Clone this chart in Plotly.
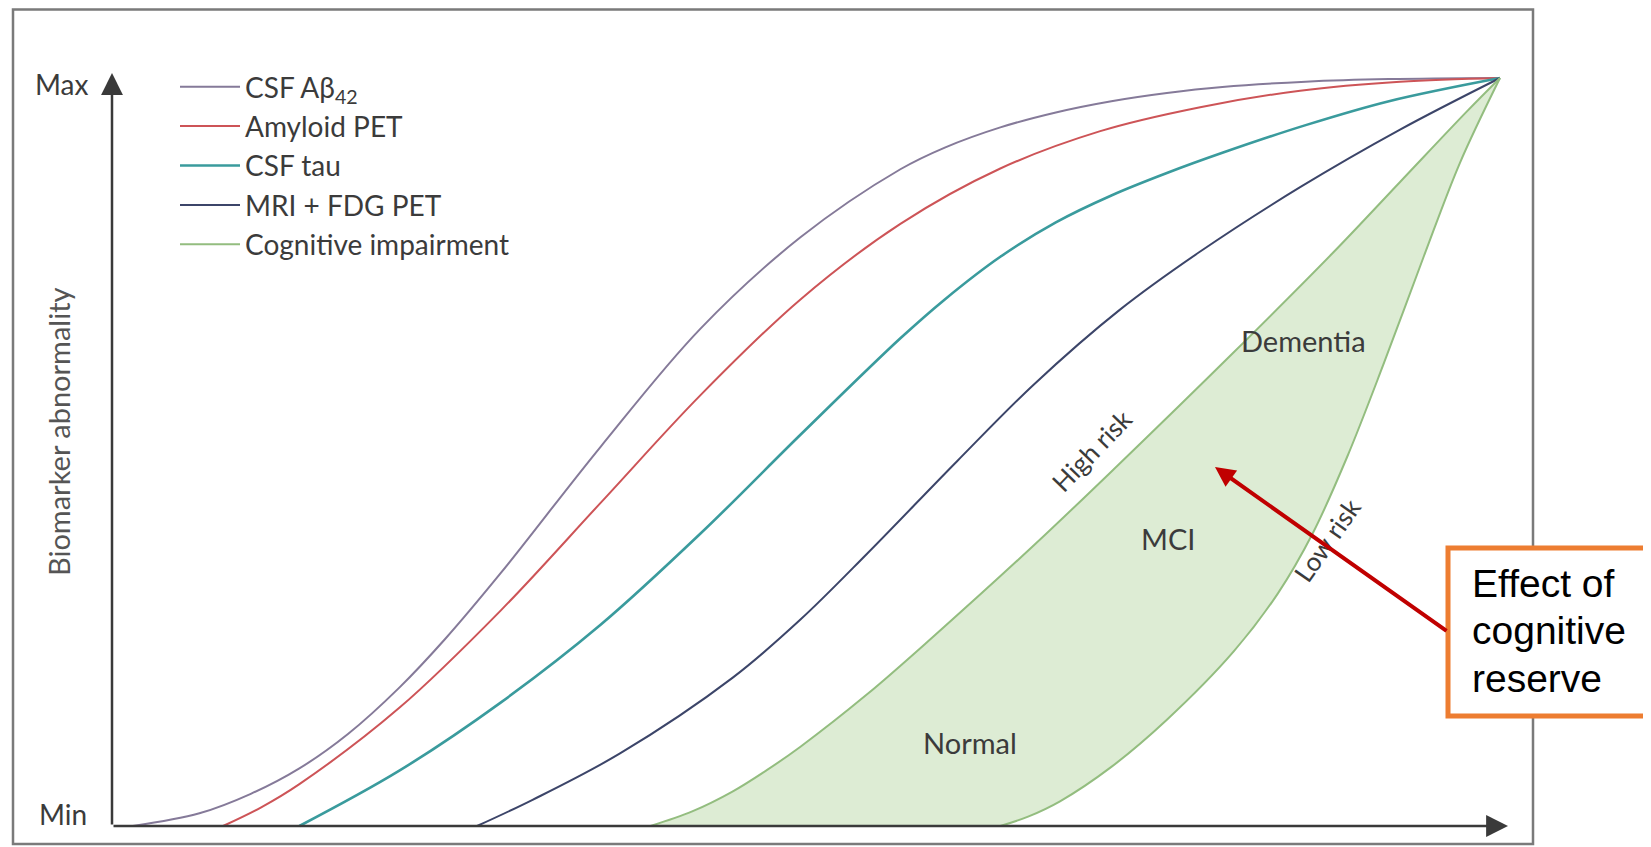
import plotly.graph_objects as go

# ---------------- data (schematic units: x = disease stage 0-100, y = abnormality 0-100)
abeta_x = [1.5, 6.3, 10.0, 13.5, 17.0, 20.7, 24.0, 28.0, 35.2, 42.4, 49.6, 56.8, 60.0, 64.0, 68.0,
           72.0, 76.0, 80.0, 86.0, 92.0, 100]
abeta_y = [0, 1.7, 4.3, 7.7, 12.3, 18.5, 25.0, 33.8, 50.7, 66.5, 78.7, 87.8, 90.7, 93.4, 95.4,
           96.9, 98.0, 98.8, 99.5, 99.85, 100]

amyloid_x = [8.0, 10.75, 13.5, 20.7, 28.0, 35.2, 42.4, 49.6, 56.8, 64.0, 71.2, 78.4, 85.6, 92.8, 100]
amyloid_y = [0, 2.5, 5.6, 15.8, 28.8, 43.2, 57.6, 70.4, 80.5, 87.9, 92.9, 96.1, 98.3, 99.5, 100]

tau_x = [13.5, 20.7, 28.0, 35.2, 42.4, 49.6, 56.8, 60.0, 64.0, 68.0, 72.0, 76.0, 80.0, 86.0, 92.0, 100]
tau_y = [0, 7.4, 16.5, 26.9, 39.1, 52.3, 65.2, 70.4, 76.1, 80.7, 84.3, 87.3, 90.0, 93.7, 96.9, 100]

mri_x = [26.3, 30.3, 36.6, 44.7, 49.6, 54.4, 60.9, 66.4, 72.6, 78.4, 85.6, 92.8, 100]
mri_y = [0, 3.5, 9.7, 19.8, 27.6, 36.4, 48.8, 59.0, 69.0, 76.8, 85.4, 93.1, 100]

high_risk_x = [38.8, 41.8, 44.7, 47.2, 49.6, 54.4, 59.1, 66.4, 72.4, 80.8, 88.0, 92.8, 97.6, 100]
high_risk_y = [0, 1.95, 4.6, 7.5, 10.6, 17.6, 25.2, 37.5, 48.1, 63.3, 76.7, 86.1, 95.5, 100]

low_risk_x = [64.0, 66.0, 68.3, 72.0, 76.0, 80.8, 84.0, 86.5, 89.0, 91.6, 94.5, 97.1, 100]
low_risk_y = [0, 1.25, 3.3, 7.9, 14.2, 23.3, 31.1, 39.1, 49.4, 61.7, 76.1, 88.6, 100]

series_names = ["CSF Aβ<sub>42</sub>", "Amyloid PET", "CSF tau", "MRI + FDG PET", "Cognitive impairment"]
stage_labels = ["Normal", "MCI", "Dementia"]
risk_labels = ["High risk", "Low risk"]
axis_labels = ["Max", "Min"]
y_title = "Biomarker abnormality"
callout_lines = ["Effect of", "cognitive", "reserve"]

# ---------------- geometry helpers
# page is 1651 x 847; the browser body margin puts the figure at (8, 8)
OFF = 8
W, H = 1651 - OFF, 847 - OFF
X_SCALE, Y_SCALE = 13.88, 7.48            # px per data unit
X_ORIGIN, Y_ORIGIN = 112, 826             # page px of data (0, 0)
X0 = -(X_ORIGIN - OFF) / X_SCALE
X1 = X0 + W / X_SCALE
Y0 = -(OFF + H - Y_ORIGIN) / Y_SCALE
Y1 = Y0 + H / Y_SCALE


def dx(px):
    return (px - X_ORIGIN) / X_SCALE


def dy(py):
    return (Y_ORIGIN - py) / Y_SCALE


def px_(px):
    return (px - OFF) / W


def py_(py):
    return 1 - (py - OFF) / H


TEXT = "#3b3b3b"
FONT = "Lato"
colors = ["#857a99", "#cd5457", "#3a9b9d", "#3c4569", "#93bd7f"]

fig = go.Figure()
curves = [(abeta_x, abeta_y), (amyloid_x, amyloid_y), (tau_x, tau_y), (mri_x, mri_y)]
widths = [2, 2, 2.6, 2]
for (xs, ys), name, c, w in zip(curves, series_names[:4], colors[:4], widths):
    fig.add_trace(go.Scatter(x=xs, y=ys, mode="lines", name=name,
                             line=dict(color=c, width=w, shape="spline"),
                             hoverinfo="skip"))

fig.add_trace(go.Scatter(x=high_risk_x, y=high_risk_y, mode="lines", name=series_names[4],
                         line=dict(color=colors[4], width=2, shape="spline"), hoverinfo="skip"))
fig.add_trace(go.Scatter(x=low_risk_x, y=low_risk_y, mode="lines", name=series_names[4],
                         showlegend=False, fill="tonexty", fillcolor="#ddecd4",
                         line=dict(color=colors[4], width=2, shape="spline"), hoverinfo="skip"))

annotations = []
# axes with arrowheads
annotations.append(dict(x=0, y=dy(73), ax=0, ay=0, axref="x", ayref="y", xref="x", yref="y",
                        text="", showarrow=True, arrowhead=2, arrowsize=1.75, arrowwidth=2.5,
                        arrowcolor="#3a3a3a", standoff=0, startstandoff=0))
annotations.append(dict(x=dx(1508), y=0, ax=0, ay=0, axref="x", ayref="y", xref="x", yref="y",
                        text="", showarrow=True, arrowhead=2, arrowsize=1.75, arrowwidth=2.5,
                        arrowcolor="#3a3a3a", standoff=0, startstandoff=0))

# Max / Min and axis title
for label, (x, y) in zip(axis_labels, [(61, 84), (63, 814)]):
    annotations.append(dict(x=dx(x), y=dy(y), text=label, showarrow=False,
                            font=dict(family=FONT, size=28, color=TEXT)))
annotations.append(dict(x=dx(58), y=dy(432), text=y_title, textangle=-90, showarrow=False,
                        font=dict(family=FONT, size=29, color="#555555")))

# stage labels
for label, (x, y) in zip(stage_labels, [(970, 742), (1168, 538), (1303, 340)]):
    annotations.append(dict(x=dx(x), y=dy(y), text=label, showarrow=False,
                            font=dict(family=FONT, size=29, color=TEXT)))
for label, (x, y), ang in zip(risk_labels, [(1092, 450), (1327, 540)], [-46, -55]):
    annotations.append(dict(x=dx(x), y=dy(y), text=label, textangle=ang, showarrow=False,
                            font=dict(family=FONT, size=26, color=TEXT)))

# red arrow + callout text
annotations.append(dict(x=dx(1215), y=dy(467), ax=1448 - 1215, ay=632 - 467, text="",
                        showarrow=True, arrowhead=2, arrowsize=1, arrowwidth=4,
                        arrowcolor="#c00000", standoff=0))
for line, yc in zip(callout_lines, [583, 630, 678]):
    annotations.append(dict(x=px_(1470), y=py_(yc), xref="paper", yref="paper", xanchor="left",
                            yanchor="middle", align="left", text=line, showarrow=False,
                            font=dict(family="Liberation Sans, Arial", size=39, color="#000000")))

shapes = [
    dict(type="rect", xref="paper", yref="paper", x0=px_(13), x1=px_(1533), y0=py_(844), y1=py_(9.5),
         line=dict(color="#7a7a7a", width=2.5), fillcolor="rgba(0,0,0,0)", layer="above"),
    dict(type="rect", xref="paper", yref="paper", x0=px_(1448), x1=1.05, y0=py_(716), y1=py_(548),
         line=dict(color="#ed7d31", width=5), fillcolor="#ffffff", layer="above"),
]

fig.update_layout(
    width=W, height=H, margin=dict(l=0, r=0, t=0, b=0),
    paper_bgcolor="white", plot_bgcolor="white",
    xaxis=dict(range=[X0, X1], visible=False, fixedrange=True),
    yaxis=dict(range=[Y0, Y1], visible=False, fixedrange=True),
    font=dict(family=FONT, color=TEXT),
    legend=dict(x=px_(175), y=py_(62), xanchor="left", yanchor="top", traceorder="normal",
                font=dict(family=FONT, size=28, color=TEXT), bgcolor="rgba(0,0,0,0)",
                itemwidth=60, tracegroupgap=0),
    annotations=annotations, shapes=shapes, hovermode=False,
)

fig.write_html("out.html")
